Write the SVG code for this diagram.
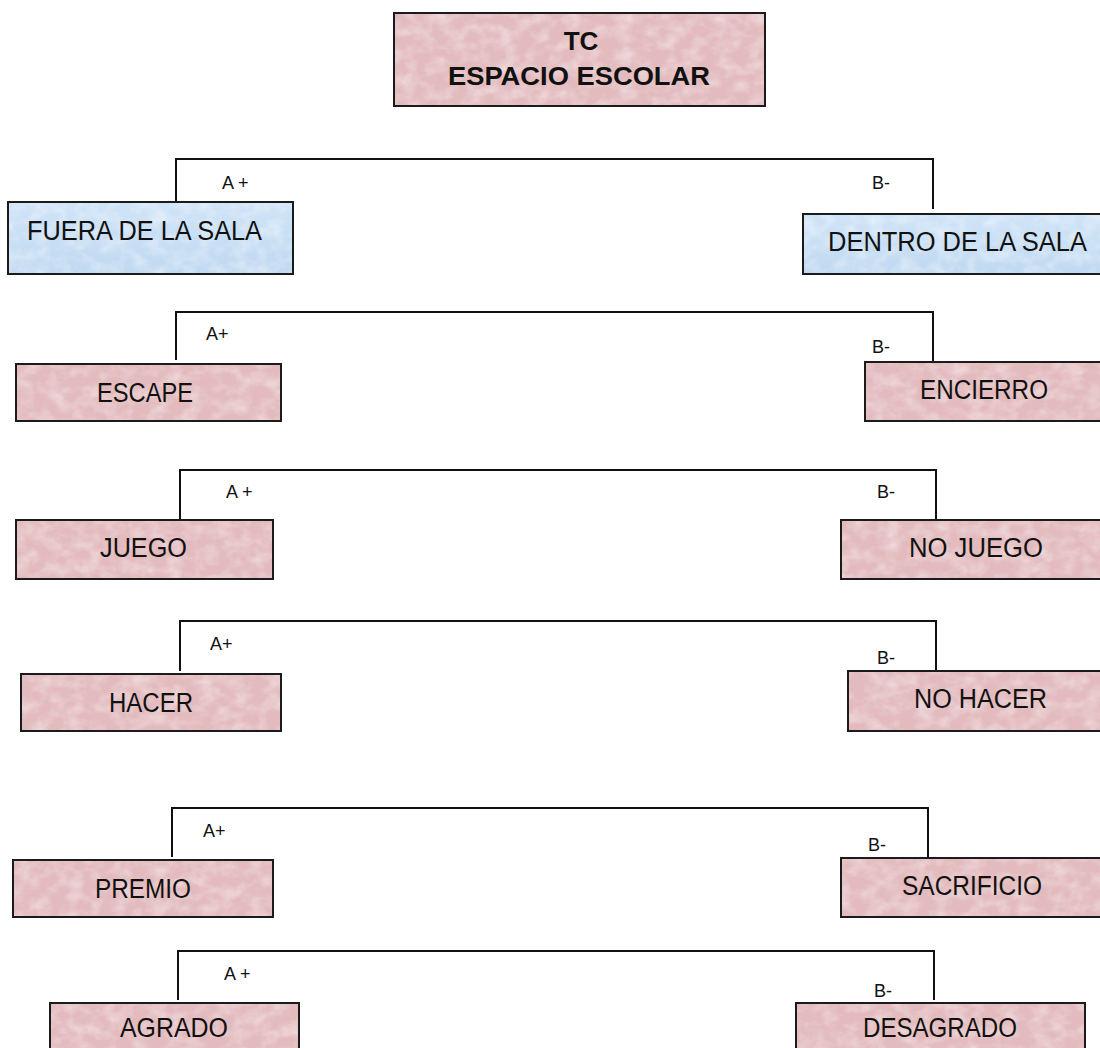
<svg xmlns="http://www.w3.org/2000/svg" width="1100" height="1048" viewBox="0 0 1100 1048">
<defs>
<filter id="tex" x="0" y="0" width="100%" height="100%" color-interpolation-filters="sRGB">
<feTurbulence type="fractalNoise" baseFrequency="0.06 0.08" numOctaves="3" seed="7" result="n"/>
<feColorMatrix in="n" type="matrix" values="0 0 0 0 1  0 0 0 0 1  0 0 0 0 1  0 0 0 0.8 -0.3" result="w"/>
<feComposite in="w" in2="SourceGraphic" operator="in" result="wc"/>
<feMerge><feMergeNode in="SourceGraphic"/><feMergeNode in="wc"/></feMerge>
</filter>
<linearGradient id="blue" x1="0" y1="0" x2="0" y2="1">
<stop offset="0" stop-color="#d0e4f8"/>
<stop offset="1" stop-color="#c0d9f1"/>
</linearGradient>
<style>
.pink{fill:#e3bbbe;filter:url(#tex)}
.blue{fill:url(#blue);filter:url(#tex)}
.bd{fill:none;stroke:#1b1b1b;stroke-width:2}
.ln{fill:none;stroke:#111;stroke-width:2}
.t{font-family:"Liberation Sans",Arial,sans-serif;font-size:27px;fill:#111;text-anchor:middle}
.h{font-family:"Liberation Sans",Arial,sans-serif;font-size:26px;font-weight:bold;fill:#111;text-anchor:middle}
.l{font-family:"Liberation Sans",Arial,sans-serif;font-size:18px;fill:#111}
</style>
</defs>
<rect width="1100" height="1048" fill="#ffffff"/>
<g id="connectors">
<path class="ln" d="M176,202 V159 H933 V209"/>
<path class="ln" d="M176,360 V312 H933 V361"/>
<path class="ln" d="M180,519 V470 H936 V519"/>
<path class="ln" d="M180,671 V621 H936 V671"/>
<path class="ln" d="M172,857 V808 H928 V857"/>
<path class="ln" d="M178,1000 V951 H934 V1000"/>
<text class="l" x="222" y="189">A +</text>
<text class="l" x="872" y="189">B-</text>
<text class="l" x="206" y="340">A+</text>
<text class="l" x="872" y="353">B-</text>
<text class="l" x="226" y="498">A +</text>
<text class="l" x="877" y="498">B-</text>
<text class="l" x="210" y="650">A+</text>
<text class="l" x="877" y="664">B-</text>
<text class="l" x="203" y="837">A+</text>
<text class="l" x="868" y="851">B-</text>
<text class="l" x="224" y="980">A +</text>
<text class="l" x="874" y="997">B-</text>
</g>
<g id="tc">
<rect class="pink" x="394" y="13" width="371" height="93"/>
<rect class="bd" x="394" y="13" width="371" height="93"/>
<text class="h" x="581" y="50">TC</text>
<text class="h" x="579" y="85" textLength="262" lengthAdjust="spacingAndGlyphs">ESPACIO ESCOLAR</text>
</g>
<g id="fuera">
<rect class="blue" x="8" y="202" width="285" height="72"/>
<rect class="bd" x="8" y="202" width="285" height="72"/>
<text class="t" x="144.5" y="240" textLength="235" lengthAdjust="spacingAndGlyphs">FUERA DE LA SALA</text>
</g>
<g id="dentro">
<rect class="blue" x="803" y="214" width="300" height="60"/>
<rect class="bd" x="803" y="214" width="300" height="60"/>
<text class="t" x="957.5" y="251" textLength="259" lengthAdjust="spacingAndGlyphs">DENTRO DE LA SALA</text>
</g>
<g id="escape">
<rect class="pink" x="16" y="364" width="265" height="57"/>
<rect class="bd" x="16" y="364" width="265" height="57"/>
<text class="t" x="145" y="402" textLength="96" lengthAdjust="spacingAndGlyphs">ESCAPE</text>
</g>
<g id="encierro">
<rect class="pink" x="865" y="362" width="238" height="59"/>
<rect class="bd" x="865" y="362" width="238" height="59"/>
<text class="t" x="984" y="399" textLength="128" lengthAdjust="spacingAndGlyphs">ENCIERRO</text>
</g>
<g id="juego">
<rect class="pink" x="16" y="520" width="257" height="59"/>
<rect class="bd" x="16" y="520" width="257" height="59"/>
<text class="t" x="143.5" y="557" textLength="87" lengthAdjust="spacingAndGlyphs">JUEGO</text>
</g>
<g id="nojuego">
<rect class="pink" x="841" y="520" width="262" height="59"/>
<rect class="bd" x="841" y="520" width="262" height="59"/>
<text class="t" x="976" y="557" textLength="134" lengthAdjust="spacingAndGlyphs">NO JUEGO</text>
</g>
<g id="hacer">
<rect class="pink" x="21" y="674" width="260" height="57"/>
<rect class="bd" x="21" y="674" width="260" height="57"/>
<text class="t" x="151" y="712" textLength="84" lengthAdjust="spacingAndGlyphs">HACER</text>
</g>
<g id="nohacer">
<rect class="pink" x="848" y="671" width="255" height="60"/>
<rect class="bd" x="848" y="671" width="255" height="60"/>
<text class="t" x="980.5" y="708" textLength="133" lengthAdjust="spacingAndGlyphs">NO HACER</text>
</g>
<g id="premio">
<rect class="pink" x="13" y="860" width="260" height="57"/>
<rect class="bd" x="13" y="860" width="260" height="57"/>
<text class="t" x="143" y="898" textLength="96" lengthAdjust="spacingAndGlyphs">PREMIO</text>
</g>
<g id="sacrificio">
<rect class="pink" x="841" y="858" width="262" height="59"/>
<rect class="bd" x="841" y="858" width="262" height="59"/>
<text class="t" x="972" y="895" textLength="140" lengthAdjust="spacingAndGlyphs">SACRIFICIO</text>
</g>
<g id="agrado">
<rect class="pink" x="50" y="1003" width="249" height="50"/>
<rect class="bd" x="50" y="1003" width="249" height="50"/>
<text class="t" x="174" y="1037" textLength="108" lengthAdjust="spacingAndGlyphs">AGRADO</text>
</g>
<g id="desagrado">
<rect class="pink" x="796" y="1003" width="289" height="50"/>
<rect class="bd" x="796" y="1003" width="289" height="50"/>
<text class="t" x="940" y="1037" textLength="154" lengthAdjust="spacingAndGlyphs">DESAGRADO</text>
</g>
</svg>
